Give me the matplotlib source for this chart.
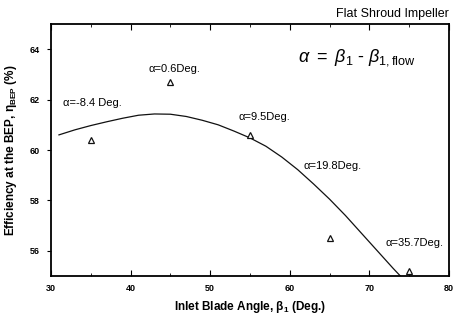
#!/usr/bin/env python3
import matplotlib as mpl
mpl.use("Agg")
import matplotlib.pyplot as plt
from matplotlib.ticker import MultipleLocator

# measured points (triangles)
blade_angle = [35, 45, 55, 65, 75]
efficiency = [60.4, 62.7, 60.6, 56.5, 55.2]
alpha_labels = ["α=-8.4 Deg.", "α=0.6Deg.", "α=9.5Deg.", "α=19.8Deg.", "α=35.7Deg."]
label_x = [31.5, 42.2, 53.5, 61.7, 72.0]
label_y = [61.85, 63.2, 61.3, 59.35, 56.3]

# fitted curve
curve_x = [31, 33, 35, 37, 39, 41, 43, 45, 47, 49, 51, 53, 55, 57, 59, 61,
           63, 65, 67, 69, 71, 73, 73.9]
curve_y = [60.6, 60.8, 60.97, 61.12, 61.26, 61.38, 61.43, 61.42, 61.33, 61.18,
           61.0, 60.75, 60.48, 60.15, 59.72, 59.22, 58.65, 58.05, 57.4, 56.7,
           56.0, 55.3, 55.0]

mpl.rcParams.update({
    "font.family": ["Liberation Sans", "DejaVu Sans"],
    "mathtext.fontset": "custom",
    "mathtext.rm": "Liberation Sans",
    "mathtext.it": "Liberation Sans:italic",
    "mathtext.bf": "Liberation Sans:bold",
    "axes.linewidth": 1.3,
})

fig = plt.figure(figsize=(4.53, 3.17), dpi=100, facecolor="white")
ax = fig.add_axes([0.1126, 0.1293, 0.8784, 0.7950])

ax.plot(curve_x, curve_y, color="#111111", lw=0.9)
ax.plot(blade_angle, efficiency, linestyle="none", marker="^", ms=5,
        mfc="white", mec="#111111", mew=0.9)

for tx, ty, s in zip(label_x, label_y, alpha_labels):
    ax.text(tx, ty, s, fontsize=8, va="center", ha="left")

ax.text(61.0, 63.65, r"$\alpha\ =\ \beta_1$ - $\beta_{1,\mathrm{flow}}$",
        fontsize=13, va="center", ha="left")

ax.text(1.0, 1.015, "Flat Shroud Impeller", transform=ax.transAxes,
        ha="right", va="bottom", fontsize=9)

ax.set_xlim(30, 80)
ax.set_ylim(55, 65)
ax.xaxis.set_major_locator(MultipleLocator(10))
ax.xaxis.set_minor_locator(MultipleLocator(5))
ax.set_yticks([56, 58, 60, 62, 64])

ax.tick_params(axis="x", direction="in", length=4, width=0.8, labelsize=6.5,
               top=True, pad=6)
ax.tick_params(axis="x", which="minor", direction="in", length=2, width=0.6, top=True)
ax.tick_params(axis="y", direction="out", length=3, width=0.8, labelsize=6.5, pad=5)
for lab in ax.get_xticklabels() + ax.get_yticklabels():
    lab.set_fontweight("bold")

ax.set_xlabel(r"Inlet Blade Angle, β$_\mathbf{1}$ (Deg.)", fontsize=8.5,
              fontweight="bold", labelpad=4)
ax.set_ylabel(r"Efficiency at the BEP, η$_\mathbf{BEP}$ (%)", fontsize=8.5,
              fontweight="bold", labelpad=8)

fig.savefig("out.png", dpi=100, facecolor="white")
